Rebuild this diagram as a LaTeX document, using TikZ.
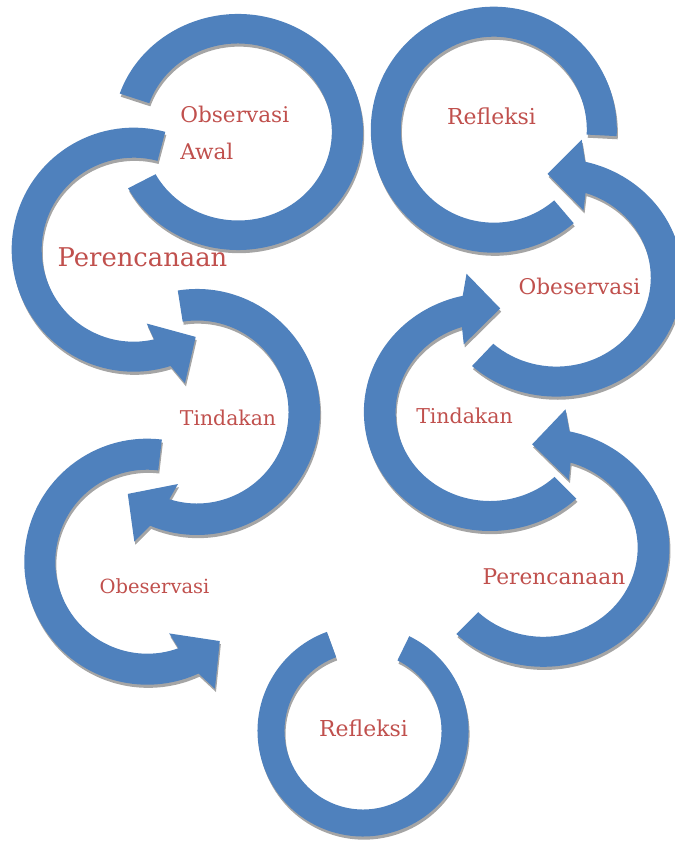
\documentclass[tikz,border=0pt]{standalone}
\usepackage{fontspec}
\setmainfont{DejaVu Serif}
\usetikzlibrary{shadows}
\definecolor{bandblue}{RGB}{79,129,189}
\definecolor{labelred}{RGB}{192,80,77}
\definecolor{shadowgray}{RGB}{165,165,165}

% ring with a gap: outer r, inner r, start angle, end angle
\newcommand{\ringband}[4]{%
  \fill[band] (#3:#1) arc[start angle=#3, end angle=#4, radius=#1]
    -- (#4:#2) arc[start angle=#4, end angle=#3, radius=#2] -- cycle;}
% ring ending in an arrow head: outer r, inner r, start angle, head angle, turn (1 or -1)
\newcommand{\arrowband}[5]{%
  \fill[band] (#3:#1) arc[start angle=#3, end angle={#4+(#5)*2.4}, radius=#1]
    -- ({#4+(#5)*5.8}:{#1+21}) -- ({#4+(#5)*20.2}:{(#1+#2)/2})
    -- ({#4-(#5)*5.2}:{#2-17}) -- ({#4-(#5)*2.4}:#2)
    arc[start angle={#4-(#5)*2.4}, end angle=#3, radius=#2] -- cycle;}

\begin{document}
\begin{tikzpicture}[x=0.02cm, y=0.02cm,
    band/.style={fill=bandblue, drop shadow={shadow xshift=0.6pt, shadow yshift=-1.8pt, opacity=1, fill=shadowgray}},
    lbl/.style={text=labelred, inner sep=0pt, font=\fontsize{#1}{21}\selectfont}
]
\useasboundingbox (0,0) rectangle (675,841);
\clip (0,0) rectangle (675,841);

% Ring centres
\coordinate (c-awal) at (238,709);
\coordinate (c-plan1) at (133.7,591.3);
\coordinate (c-act1) at (197,429);
\coordinate (c-obs1) at (147.3,279.3);
\coordinate (c-ref1) at (363,110);
\coordinate (c-plan2) at (543.3,293.2);
\coordinate (c-act2) at (490,429);
\coordinate (c-obs2) at (556.4,563.4);
\coordinate (c-ref2) at (493.8,711.3);

% Left cycle
\begin{scope}[shift={(c-awal)}, xscale=1.06]
  \ringband{118}{88.5}{161}{-151.5}
\end{scope}
\begin{scope}[shift={(c-plan1)}]
  \arrowband{122}{92}{75}{285.2}{1}
\end{scope}
\begin{scope}[shift={(c-act1)}]
  \arrowband{123}{91.5}{99}{-110}{-1}
\end{scope}
\begin{scope}[shift={(c-obs1)}]
  \arrowband{123}{92}{83.2}{292.2}{1}
\end{scope}

% Bottom
\begin{scope}[shift={(c-ref1)}]
  \ringband{105.5}{78.5}{64}{-250}
\end{scope}

% Right cycle
\begin{scope}[shift={(c-plan2)}, xscale=1.06]
  \arrowband{119}{89}{-133.6}{75.6}{1}
\end{scope}
\begin{scope}[shift={(c-act2)}, xscale=1.06]
  \arrowband{119}{89}{-46.8}{-255.1}{-1}
\end{scope}
\begin{scope}[shift={(c-obs2)}, xscale=1.06]
  \arrowband{119}{89}{-132}{74.4}{1}
\end{scope}
\begin{scope}[shift={(c-ref2)}]
  \ringband{123}{93}{-3}{310.5}
\end{scope}

% Labels
\node[lbl=12.3, align=left, anchor=west] (awal) at (180,707.7) {Observasi\\Awal};
\node[lbl=14.7, anchor=base] (plan1) at (142.5,574) {Perencanaan};
\node[lbl=11.6, anchor=base] (act1) at (228,415) {Tindakan};
\node[lbl=11.1, anchor=base] (obs1) at (154.5,247) {Obeservasi};
\node[lbl=12.5, anchor=base] (ref1) at (363.5,104) {Refleksi};
\node[lbl=12.35, anchor=base] (plan2) at (554,256) {Perencanaan};
\node[lbl=11.65, anchor=base] (act2) at (464.5,417) {Tindakan};
\node[lbl=12.3, anchor=base] (obs2) at (579.5,546) {Obeservasi};
\node[lbl=12.5, anchor=base] (ref2) at (491.5,716) {Refleksi};

\end{tikzpicture}
\end{document}
